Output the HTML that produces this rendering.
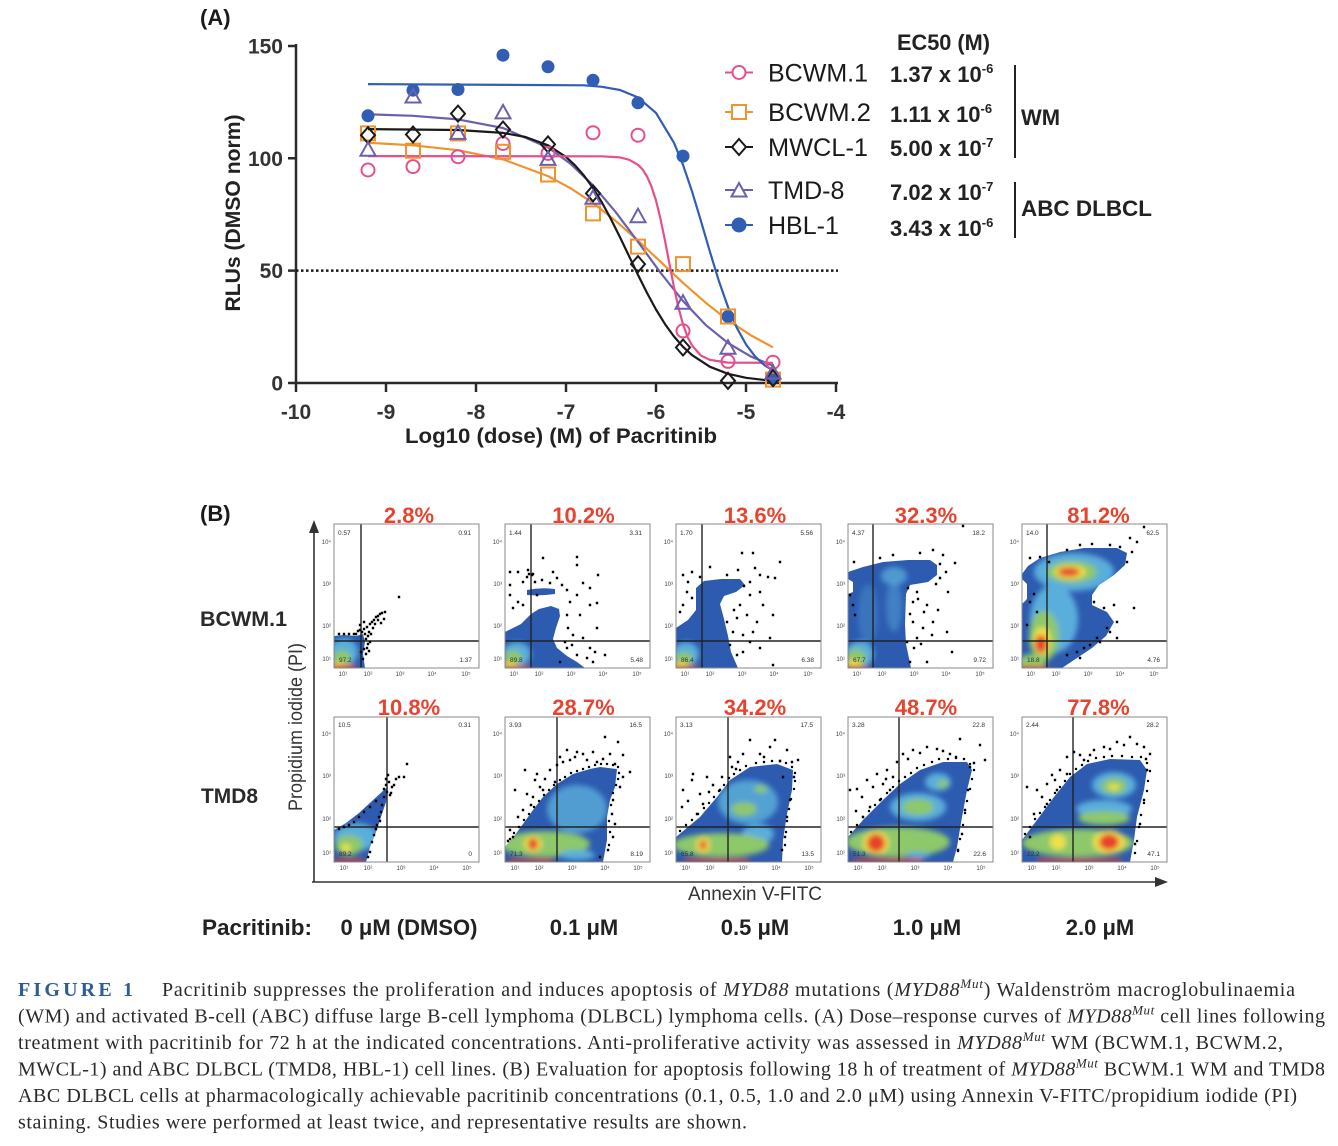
<!DOCTYPE html>
<html><head><meta charset="utf-8"><style>
html,body{margin:0;padding:0;background:#fff;}
svg{display:block;}
.s{font-family:"Liberation Sans",Arial,sans-serif;}
.b{font-family:"Liberation Sans",Arial,sans-serif;font-weight:bold;}
.q{font-family:"Liberation Sans",Arial,sans-serif;font-size:6.5px;fill:#333;}
.t{font-family:"Liberation Sans","DejaVu Sans",sans-serif;font-size:6px;fill:#444;}
.cap{font-family:"Liberation Serif","Times New Roman",serif;font-size:20px;fill:#2a2a2a;}
.pct{font-family:"Liberation Sans",Arial,sans-serif;font-weight:bold;font-size:22px;fill:#e8432e;}
</style></head><body>
<svg width="1338" height="1146" viewBox="0 0 1338 1146" xmlns="http://www.w3.org/2000/svg">
<defs>
<circle id="mc" r="6.5"/>
<rect id="ms" x="-7" y="-7" width="14" height="14"/>
<path id="md" d="M0,-8L7,0L0,8L-7,0Z"/>
<path id="mt" d="M0,-8L7.5,5.5L-7.5,5.5Z"/>
<filter id="bl" filterUnits="userSpaceOnUse" x="-30" y="-30" width="210" height="210"><feGaussianBlur stdDeviation="2.6"/></filter>
<clipPath id="pr1"><rect x="0" y="0" width="145" height="144"/></clipPath>
<clipPath id="pr2"><rect x="0" y="0" width="145" height="145"/></clipPath>
<path id="b11" d="M0,144L0,112L10,111L22,112L29,110L31,118L29,130L31,144Z"/>
<path id="b12" d="M0,144L0,108L8,104L16,100L26,90L34,85L46,82L54,85L55,92L51,104L48,115L52,124L62,132L72,138L80,144Z M22,66Q36,63 50,65L50,70Q36,72 22,71Z"/>
<path id="b13" d="M0,144L0,104L12,96L20,86L20,64L28,57L45,55L64,55L69,61L60,68L48,72L44,80L48,95L52,112L55,128L62,144Z"/>
<path id="b14" d="M0,144L0,70L5,68L5,58L0,55L0,48L15,43L35,38L60,36L82,36L89,41L89,51L80,58L62,61L58,70L57,100L58,120L63,144Z"/>
<path id="b15" d="M0,144L0,80L5,75L5,60L0,55L0,50L6,42L18,34L38,28L62,24L95,24L105,29L103,41L92,51L77,61L70,71L70,81L85,88L92,98L84,112L70,124L55,134L40,144Z"/>
<path id="b21" d="M0,145L0,113L12,106L25,96L38,84L50,73L54,70L52,85L47,100L42,115L36,130L32,145Z"/>
<path id="b22" d="M0,145L0,130L10,118L18,107L28,93L38,80L52,67L68,57L85,52L95,50L112,52L110,70L105,83L102,100L102,123L98,145Z"/>
<path id="b23" d="M0,145L0,120L12,110L24,100L41,80L54,63L74,50L101,47L117,53L116,73L111,97L107,123L106,145Z"/>
<path id="b24" d="M0,145L0,120L15,103L35,83L52,67L72,53L95,45L119,45L124,53L119,73L114,100L109,130L105,145Z"/>
<path id="b25" d="M0,145L0,123L15,103L32,80L48,60L65,47L88,42L118,43L125,53L122,73L115,100L112,123L108,145Z"/>
<clipPath id="k11"><use href="#b11"/></clipPath>
<clipPath id="k12"><use href="#b12"/></clipPath>
<clipPath id="k13"><use href="#b13"/></clipPath>
<clipPath id="k14"><use href="#b14"/></clipPath>
<clipPath id="k15"><use href="#b15"/></clipPath>
<clipPath id="k21"><use href="#b21"/></clipPath>
<clipPath id="k22"><use href="#b22"/></clipPath>
<clipPath id="k23"><use href="#b23"/></clipPath>
<clipPath id="k24"><use href="#b24"/></clipPath>
<clipPath id="k25"><use href="#b25"/></clipPath>
</defs>
<rect width="1338" height="1146" fill="#fff"/>

<!-- ================= PANEL A ================= -->
<text class="b" x="200" y="25" font-size="22" fill="#1a1a1a">(A)</text>
<g stroke="#2a2a2a" stroke-width="2.5" fill="none">
<path d="M296,44V383H838"/>
<path d="M288,46H296M288,158.3H296M288,270.6H296M288,383H296"/>
<path d="M296,383V392M386,383V392M476,383V392M566,383V392M656,383V392M746,383V392M836,383V392"/>
</g>
<line x1="296" y1="270.6" x2="838" y2="270.6" stroke="#1a1a1a" stroke-width="2.5" stroke-dasharray="2.5 2.5"/>
<g class="b" font-size="21" fill="#333" text-anchor="end">
<text x="283" y="53.5">150</text><text x="283" y="165.8">100</text><text x="283" y="278">50</text><text x="283" y="390.5">0</text>
</g>
<g class="b" font-size="21" fill="#333" text-anchor="middle">
<text x="296" y="419">-10</text><text x="386" y="419">-9</text><text x="476" y="419">-8</text><text x="566" y="419">-7</text><text x="656" y="419">-6</text><text x="746" y="419">-5</text><text x="836" y="419">-4</text>
</g>
<text class="b" x="561" y="443" font-size="21" fill="#222" text-anchor="middle" textLength="312" lengthAdjust="spacingAndGlyphs">Log10 (dose) (M) of Pacritinib</text>
<text class="b" transform="translate(240,213) rotate(-90)" font-size="21" fill="#222" text-anchor="middle" textLength="197" lengthAdjust="spacingAndGlyphs">RLUs (DMSO norm)</text>

<g fill="none" stroke-width="2.2" stroke-linejoin="round">
<polyline stroke="#f0932e" points="368,142.8 413,145.3 458,150.2 503,159.4 548,176.1 570.5,188.2 593,203.0 615.5,220.8 638,240.5 660.5,261.7 683,282.8 705.5,302.6 728,320.3 750.5,335.1 773,347.3"/>
<polyline stroke="#6c5fb0" points="368,114.3 413,115.8 458,119.4 503,128.0 548,147.5 570.5,163.7 593,185.3 615.5,211.8 638,241.9 660.5,272.7 683,301.0 705.5,324.8 728,343.0 750.5,356.3 773,365.7"/>
<polyline stroke="#1a1a1a" points="368,129.1 458,130.0 503,132.9 525.5,137.0 548,145.3 566,156.9 575,165.3 584,175.6 593,188.0 602,202.6 611,219.2 620,237.2 629,256.0 638,274.9 647,292.9 656,309.5 665,324.1 674,336.5 683,346.8 692,355.1 710,366.8 728,373.8 746,377.8 773,381.0"/>
<polyline stroke="#e5508c" points="368,156.1 602,156.3 620,157.4 629,159.7 638,164.8 642.5,169.3 647,176.5 651.5,186.6 656,200.5 660.5,219.0 665,240.5 669.5,264.1 674,287.3 678.5,307.7 683,324.4 687.5,336.7 692,345.5 701,355.6 710,359.9 728,362.6 773,362.8"/>
<polyline stroke="#2f5eb4" points="368,84.1 584,85.3 602,86.8 620,90.0 638,97.4 656,112.9 674,142.8 683,164.8 692,191.3 701,221.2 710,252.0 719,281.4 728,307.0 737,328.2 746,344.4 755,356.3 764,364.8 773,370.6"/>
</g>
<g fill="#2f5eb4">
<use href="#mc" x="368" y="115.8"/><use href="#mc" x="413" y="90.2"/><use href="#mc" x="458" y="89.5"/><use href="#mc" x="503" y="55.2"/><use href="#mc" x="548" y="66.8"/><use href="#mc" x="593" y="80.3"/><use href="#mc" x="638" y="102.8"/><use href="#mc" x="683" y="156.1"/><use href="#mc" x="728" y="316.5"/><use href="#mc" x="773" y="378.1"/>
</g>
<g fill="none" stroke="#e5508c" stroke-width="2">
<use href="#mc" x="368" y="170.0"/><use href="#mc" x="413" y="166.6"/><use href="#mc" x="458" y="156.7"/><use href="#mc" x="503" y="143.5"/><use href="#mc" x="548" y="153.4"/><use href="#mc" x="593" y="132.7"/><use href="#mc" x="638" y="135.2"/><use href="#mc" x="683" y="330.9"/><use href="#mc" x="728" y="361.4"/><use href="#mc" x="773" y="362.3"/>
</g>
<g fill="none" stroke="#f0932e" stroke-width="2">
<use href="#ms" x="368" y="133.4"/><use href="#ms" x="413" y="150.7"/><use href="#ms" x="458" y="133.4"/><use href="#ms" x="503" y="151.8"/><use href="#ms" x="548" y="174.5"/><use href="#ms" x="593" y="213.4"/><use href="#ms" x="638" y="246.6"/><use href="#ms" x="683" y="264.1"/><use href="#ms" x="728" y="316.5"/><use href="#ms" x="773" y="379.6"/>
</g>
<g fill="none" stroke="#1a1a1a" stroke-width="2">
<use href="#md" x="368" y="135.2"/><use href="#md" x="413" y="134.5"/><use href="#md" x="458" y="113.6"/><use href="#md" x="503" y="129.5"/><use href="#md" x="548" y="144.4"/><use href="#md" x="593" y="193.4"/><use href="#md" x="638" y="264.1"/><use href="#md" x="683" y="347.5"/><use href="#md" x="728" y="380.8"/><use href="#md" x="773" y="378.1"/>
</g>
<g fill="none" stroke="#6c5fb0" stroke-width="2">
<use href="#mt" x="368" y="150.2"/><use href="#mt" x="413" y="97.0"/><use href="#mt" x="458" y="133.4"/><use href="#mt" x="503" y="112.9"/><use href="#mt" x="548" y="159.4"/><use href="#mt" x="593" y="198.3"/><use href="#mt" x="638" y="216.7"/><use href="#mt" x="683" y="303.2"/><use href="#mt" x="728" y="348.2"/><use href="#mt" x="773" y="373.1"/>
</g>

<g stroke-width="2">
<line x1="725" y1="72.5" x2="753" y2="72.5" stroke="#e5508c"/><use href="#mc" x="739" y="72.5" fill="#fff" stroke="#e5508c"/>
<line x1="725" y1="112" x2="753" y2="112" stroke="#f0932e"/><use href="#ms" x="739" y="112" fill="#fff" stroke="#f0932e"/>
<line x1="725" y1="147" x2="753" y2="147" stroke="#1a1a1a"/><use href="#md" x="739" y="147" fill="#fff" stroke="#1a1a1a"/>
<line x1="725" y1="190" x2="753" y2="190" stroke="#6c5fb0"/><use href="#mt" x="739" y="191" fill="#fff" stroke="#6c5fb0"/>
<line x1="725" y1="225" x2="753" y2="225" stroke="#2f5eb4"/><use href="#mc" x="739" y="225" fill="#2f5eb4" stroke="#2f5eb4"/>
</g>
<g class="s" font-size="25" fill="#1a1a1a">
<text x="768" y="81.5" textLength="100" lengthAdjust="spacingAndGlyphs">BCWM.1</text>
<text x="768" y="121" textLength="103" lengthAdjust="spacingAndGlyphs">BCWM.2</text>
<text x="768" y="156" textLength="100" lengthAdjust="spacingAndGlyphs">MWCL-1</text>
<text x="768" y="199">TMD-8</text>
<text x="768" y="234">HBL-1</text>
</g>
<g class="b" font-size="22" fill="#222">
<text x="897" y="50" textLength="93" lengthAdjust="spacingAndGlyphs">EC50 (M)</text>
<text x="890" y="82">1.37 x 10<tspan font-size="13" dy="-9">-6</tspan></text>
<text x="890" y="122">1.11 x 10<tspan font-size="13" dy="-9">-6</tspan></text>
<text x="890" y="156">5.00 x 10<tspan font-size="13" dy="-9">-7</tspan></text>
<text x="890" y="200">7.02 x 10<tspan font-size="13" dy="-9">-7</tspan></text>
<text x="890" y="236">3.43 x 10<tspan font-size="13" dy="-9">-6</tspan></text>
<text x="1021" y="125">WM</text>
<text x="1021" y="216" textLength="131" lengthAdjust="spacingAndGlyphs">ABC DLBCL</text>
</g>
<path d="M1015,65V158M1015,182V238" stroke="#222" stroke-width="2"/>

<!-- ================= PANEL B ================= -->
<text class="b" x="200" y="521" font-size="22" fill="#1a1a1a">(B)</text>
<text class="b" x="200" y="626" font-size="21.5" fill="#2a2a2a" textLength="87" lengthAdjust="spacingAndGlyphs">BCWM.1</text>
<text class="b" x="201" y="803" font-size="21.5" fill="#2a2a2a" textLength="57" lengthAdjust="spacingAndGlyphs">TMD8</text>
<text class="s" transform="translate(302,727) rotate(-90)" font-size="19" fill="#333" text-anchor="middle" textLength="168" lengthAdjust="spacingAndGlyphs">Propidium iodide (PI)</text>
<text class="s" x="755" y="900" font-size="19" fill="#333" text-anchor="middle" textLength="134" lengthAdjust="spacingAndGlyphs">Annexin V-FITC</text>
<path d="M314,882V530M312,882H1158" stroke="#333" stroke-width="1.6" fill="none"/>
<path d="M314,520L309,533L319,533Z M1168,882L1155,877L1155,887Z" fill="#333"/>

<g class="pct" text-anchor="middle">
<text x="409" y="523">2.8%</text><text x="583.5" y="523">10.2%</text><text x="755" y="523">13.6%</text><text x="926" y="523">32.3%</text><text x="1098.5" y="523">81.2%</text>
<text x="409" y="715">10.8%</text><text x="583.5" y="715">28.7%</text><text x="755" y="715">34.2%</text><text x="926" y="715">48.7%</text><text x="1098.5" y="715">77.8%</text>
</g>

<g class="b" font-size="22" fill="#222">
<text x="202" y="935" textLength="110" lengthAdjust="spacingAndGlyphs">Pacritinib:</text>
<text x="409" y="935" text-anchor="middle">0 μM (DMSO)</text>
<text x="584" y="935" text-anchor="middle">0.1 μM</text>
<text x="755" y="935" text-anchor="middle">0.5 μM</text>
<text x="927" y="935" text-anchor="middle">1.0 μM</text>
<text x="1100" y="935" text-anchor="middle">2.0 μM</text>
</g>

<!-- ===== Row 1 plot 1 ===== -->
<g transform="translate(334,524)">
<g clip-path="url(#pr1)"><use href="#b11" fill="#2c5bb0"/>
<g clip-path="url(#k11)"><g filter="url(#bl)"><ellipse cx="10" cy="128" rx="14" ry="14" fill="#5aaedb"/><ellipse cx="8" cy="134" rx="9" ry="8" fill="#8dc86a"/><ellipse cx="4" cy="141" rx="7" ry="3" fill="#efe04a"/><rect x="0" y="141" width="22" height="5" fill="#e8402a"/></g></g></g>
<path d="M27,0V144M0,117H145" stroke="#222" stroke-width="1.4"/>
<path d="M30 105h0M33 103h0M36 100h0M38 98h0M40 96h0M42 93h0M44 92h0M46 90h0M48 89h0M51 88h0M35 108h0M37 110h0M34 112h0M31 110h0M28 108h0M26 106h0M32 115h0M34 120h0M30 125h0M32 130h0M29 135h0M27 128h0M36 118h0M39 104h0M41 100h0M24 107h0M22 110h0M65 73h0M44 96h0M50 95h0M47 99h0M30 98h0M26 101h0M20 110h0M15 110h0M10 110h0M5 110h0M33 124h0M35 127h0" stroke="#000" stroke-width="2.4" stroke-linecap="square"/>
<rect x="0" y="0" width="145" height="144" fill="none" stroke="#8a8a8a"/>
<text class="q" x="4" y="11">0.57</text><text class="q" x="137" y="11" text-anchor="end">0.91</text><text class="q" x="5" y="138">97.2</text><text class="q" x="138" y="138" text-anchor="end">1.37</text>
<g class="t" text-anchor="middle"><text x="9" y="152">10¹</text><text x="34" y="152">10²</text><text x="66" y="152">10³</text><text x="98" y="152">10⁴</text><text x="132" y="152">10⁵</text></g>
<g class="t" text-anchor="end"><text x="-3" y="20">10⁴</text><text x="-3" y="62">10³</text><text x="-3" y="104">10²</text><text x="-3" y="137">10¹</text></g>
</g>

<!-- ===== Row 1 plot 2 ===== -->
<g transform="translate(505,524)">
<g clip-path="url(#pr1)"><use href="#b12" fill="#2c5bb0"/>
<g clip-path="url(#k12)"><g filter="url(#bl)"><ellipse cx="12" cy="130" rx="14" ry="12" fill="#5aaedb"/><ellipse cx="8" cy="134" rx="9" ry="8" fill="#8dc86a"/><ellipse cx="4" cy="141" rx="7" ry="3" fill="#efe04a"/><rect x="0" y="142" width="25" height="4" fill="#e8402a"/></g></g></g>
<path d="M26,0V144M0,117H145" stroke="#222" stroke-width="1.4"/>
<path d="M5 48h0M13 48h0M23 46h0M27 51h0M38 34h0M30 58h0M37 56h0M45 59h0M52 54h0M57 61h0M62 66h0M72 33h0M72 41h0M78 59h0M93 51h0M85 64h0M72 71h0M65 78h0M62 91h0M75 91h0M85 81h0M92 79h0M5 71h0M13 78h0M18 81h0M8 84h0M32 71h0M18 58h0M5 61h0M63 104h0M68 111h0M78 114h0M85 124h0M90 128h0M82 134h0M72 131h0M62 124h0M92 104h0M100 131h0M60 118h0M67 121h0M88 138h0M55 138h0M22 53h0M24 50h0M28 50h0M48 48h0" stroke="#000" stroke-width="2.4" stroke-linecap="square"/>
<rect x="0" y="0" width="145" height="144" fill="none" stroke="#8a8a8a"/>
<text class="q" x="4" y="11">1.44</text><text class="q" x="137" y="11" text-anchor="end">3.31</text><text class="q" x="5" y="138">89.8</text><text class="q" x="138" y="138" text-anchor="end">5.48</text>
<g class="t" text-anchor="middle"><text x="9" y="152">10¹</text><text x="34" y="152">10²</text><text x="66" y="152">10³</text><text x="98" y="152">10⁴</text><text x="132" y="152">10⁵</text></g>
<g class="t" text-anchor="end"><text x="-3" y="20">10⁴</text><text x="-3" y="62">10³</text><text x="-3" y="104">10²</text><text x="-3" y="137">10¹</text></g>
</g>

<!-- ===== Row 1 plot 3 ===== -->
<g transform="translate(676,524)">
<g clip-path="url(#pr1)"><use href="#b13" fill="#2c5bb0"/>
<g clip-path="url(#k13)"><g filter="url(#bl)"><ellipse cx="10" cy="130" rx="13" ry="12" fill="#5aaedb"/><ellipse cx="8" cy="135" rx="9" ry="7" fill="#8dc86a"/><ellipse cx="4" cy="141" rx="7" ry="3" fill="#efe04a"/><rect x="0" y="142" width="22" height="4" fill="#e8402a"/></g></g></g>
<path d="M26,0V144M0,117H145" stroke="#222" stroke-width="1.4"/>
<path d="M7 51h0M16 48h0M24 53h0M11 68h0M7 81h0M16 74h0M4 88h0M34 43h0M51 51h0M66 29h0M77 29h0M62 46h0M74 58h0M84 51h0M92 53h0M99 54h0M104 38h0M74 71h0M84 68h0M87 81h0M64 81h0M61 94h0M71 91h0M81 98h0M97 91h0M57 108h0M67 111h0M74 118h0M84 124h0M94 114h0M67 128h0M97 141h0M54 121h0M61 131h0M77 108h0M51 98h0M58 86h0M68 62h0M79 44h0M12 58h0" stroke="#000" stroke-width="2.4" stroke-linecap="square"/>
<rect x="0" y="0" width="145" height="144" fill="none" stroke="#8a8a8a"/>
<text class="q" x="4" y="11">1.70</text><text class="q" x="137" y="11" text-anchor="end">5.56</text><text class="q" x="5" y="138">86.4</text><text class="q" x="138" y="138" text-anchor="end">6.38</text>
<g class="t" text-anchor="middle"><text x="9" y="152">10¹</text><text x="34" y="152">10²</text><text x="66" y="152">10³</text><text x="98" y="152">10⁴</text><text x="132" y="152">10⁵</text></g>
<g class="t" text-anchor="end"><text x="-3" y="20">10⁴</text><text x="-3" y="62">10³</text><text x="-3" y="104">10²</text><text x="-3" y="137">10¹</text></g>
</g>

<!-- ===== Row 1 plot 4 ===== -->
<g transform="translate(848,524)">
<g clip-path="url(#pr1)"><use href="#b14" fill="#2c5bb0"/>
<g clip-path="url(#k14)"><g filter="url(#bl)"><ellipse cx="46" cy="52" rx="13" ry="9" fill="#5aaedb" opacity="0.75"/><ellipse cx="46" cy="82" rx="8" ry="26" fill="#5aaedb" opacity="0.45"/><ellipse cx="20" cy="90" rx="10" ry="30" fill="#5aaedb" opacity="0.3"/><ellipse cx="12" cy="130" rx="14" ry="13" fill="#5aaedb"/><ellipse cx="8" cy="134" rx="10" ry="9" fill="#8dc86a"/><ellipse cx="5" cy="140" rx="7" ry="4" fill="#efe04a"/><rect x="0" y="142" width="20" height="4" fill="#e8402a"/></g></g></g>
<path d="M25,0V144M0,117H145" stroke="#222" stroke-width="1.4"/>
<path d="M6 38h0M32 34h0M45 31h0M72 29h0M85 26h0M95 31h0M107 39h0M115 2h0M92 54h0M100 68h0M69 68h0M65 78h0M79 81h0M85 98h0M65 98h0M75 104h0M84 111h0M69 114h0M59 118h0M99 108h0M104 128h0M62 138h0M79 138h0M2 71h0M5 81h0M7 91h0M60 64h0M70 75h0M76 88h0M90 86h0M66 124h0M73 120h0M92 40h0M88 60h0M98 48h0M62 90h0" stroke="#000" stroke-width="2.4" stroke-linecap="square"/>
<rect x="0" y="0" width="145" height="144" fill="none" stroke="#8a8a8a"/>
<text class="q" x="4" y="11">4.37</text><text class="q" x="137" y="11" text-anchor="end">18.2</text><text class="q" x="5" y="138">67.7</text><text class="q" x="138" y="138" text-anchor="end">9.72</text>
<g class="t" text-anchor="middle"><text x="9" y="152">10¹</text><text x="34" y="152">10²</text><text x="66" y="152">10³</text><text x="98" y="152">10⁴</text><text x="132" y="152">10⁵</text></g>
<g class="t" text-anchor="end"><text x="-3" y="20">10⁴</text><text x="-3" y="62">10³</text><text x="-3" y="104">10²</text><text x="-3" y="137">10¹</text></g>
</g>

<!-- ===== Row 1 plot 5 ===== -->
<g transform="translate(1022,524)">
<g clip-path="url(#pr1)"><use href="#b15" fill="#2c5bb0"/>
<g clip-path="url(#k15)"><g filter="url(#bl)"><ellipse cx="52" cy="48" rx="40" ry="19" fill="#5aaedb"/><ellipse cx="32" cy="95" rx="24" ry="34" fill="#5aaedb"/><ellipse cx="50" cy="48" rx="25" ry="11" fill="#8dc86a"/><ellipse cx="22" cy="112" rx="15" ry="25" fill="#8dc86a"/><ellipse cx="48" cy="48" rx="16" ry="7" fill="#efe04a"/><ellipse cx="20" cy="117" rx="9" ry="14" fill="#efe04a"/><ellipse cx="47" cy="48" rx="11" ry="4.5" fill="#e8402a"/><ellipse cx="19" cy="120" rx="6" ry="9" fill="#e8402a"/><ellipse cx="10" cy="138" rx="14" ry="8" fill="#8dc86a"/><rect x="0" y="142" width="25" height="4" fill="#e8402a"/></g></g></g>
<path d="M25,0V144M0,117H145" stroke="#222" stroke-width="1.4"/>
<path d="M8 34h0M18 33h0M27 38h0M58 21h0M88 21h0M98 23h0M108 14h0M122 3h0M8 78h0M15 88h0M5 101h0M72 78h0M82 84h0M92 81h0M112 84h0M95 98h0M85 104h0M75 114h0M62 124h0M55 128h0M45 131h0M68 121h0M78 118h0M105 38h0M95 114h0M12 70h0M110 28h0M115 18h0M70 20h0M45 26h0M88 108h0M58 134h0" stroke="#000" stroke-width="2.4" stroke-linecap="square"/>
<rect x="0" y="0" width="145" height="144" fill="none" stroke="#8a8a8a"/>
<text class="q" x="4" y="11">14.0</text><text class="q" x="137" y="11" text-anchor="end">62.5</text><text class="q" x="5" y="138">18.8</text><text class="q" x="138" y="138" text-anchor="end">4.76</text>
<g class="t" text-anchor="middle"><text x="9" y="152">10¹</text><text x="34" y="152">10²</text><text x="66" y="152">10³</text><text x="98" y="152">10⁴</text><text x="132" y="152">10⁵</text></g>
<g class="t" text-anchor="end"><text x="-3" y="20">10⁴</text><text x="-3" y="62">10³</text><text x="-3" y="104">10²</text><text x="-3" y="137">10¹</text></g>
</g>

<!-- ===== Row 2 plot 1 ===== -->
<g transform="translate(334,717)">
<g clip-path="url(#pr2)"><use href="#b21" fill="#2c5bb0"/>
<g clip-path="url(#k21)"><g filter="url(#bl)"><ellipse cx="22" cy="120" rx="22" ry="14" fill="#5aaedb"/><ellipse cx="15" cy="128" rx="14" ry="10" fill="#8dc86a"/><ellipse cx="12" cy="131" rx="5" ry="4" fill="#efe04a"/><rect x="0" y="142" width="30" height="4" fill="#e8402a"/></g></g></g>
<path d="M53,0V145M0,110H145" stroke="#222" stroke-width="1.4"/>
<path d="M50 72h0M52 68h0M55 65h0M53 75h0M56 78h0M58 70h0M60 68h0M62 62h0M65 60h0M70 60h0M73 47h0M50 80h0M48 88h0M45 100h0M43 108h0M40 118h0M38 125h0M36 135h0M42 112h0M47 95h0M10 110h0M15 108h0M20 105h0M5 112h0M25 100h0M52 62h0M54 58h0M57 76h0M34 140h0M46 104h0M30 95h0M36 90h0M42 84h0" stroke="#000" stroke-width="2.4" stroke-linecap="square"/>
<rect x="0" y="0" width="145" height="145" fill="none" stroke="#8a8a8a"/>
<text class="q" x="4" y="10">10.5</text><text class="q" x="137" y="10" text-anchor="end">0.31</text><text class="q" x="5" y="139">89.2</text><text class="q" x="138" y="139" text-anchor="end">0</text>
<g class="t" text-anchor="middle"><text x="10" y="153">10¹</text><text x="34" y="153">10²</text><text x="67" y="153">10³</text><text x="100" y="153">10⁴</text><text x="133" y="153">10⁵</text></g>
<g class="t" text-anchor="end"><text x="-3" y="19">10⁴</text><text x="-3" y="61">10³</text><text x="-3" y="104">10²</text><text x="-3" y="138">10¹</text></g>
</g>

<!-- ===== Row 2 plot 2 ===== -->
<g transform="translate(505,717)">
<g clip-path="url(#pr2)"><use href="#b22" fill="#2c5bb0"/>
<g clip-path="url(#k22)"><g filter="url(#bl)"><ellipse cx="72" cy="92" rx="30" ry="24" fill="#5aaedb" opacity="0.8"/><ellipse cx="40" cy="127" rx="45" ry="13" fill="#8dc86a"/><ellipse cx="28" cy="127" rx="9" ry="8" fill="#efe04a"/><ellipse cx="28" cy="127" rx="5" ry="6" fill="#e8402a"/><rect x="3" y="142" width="45" height="4" fill="#e8402a"/><ellipse cx="72" cy="138" rx="18" ry="5" fill="#5aaedb"/></g></g></g>
<path d="M52,0V145M0,110H145" stroke="#222" stroke-width="1.4"/>
<path d="M10 73h0M20 53h0M32 57h0M30 63h0M35 70h0M22 77h0M18 93h0M13 100h0M28 80h0M38 73h0M45 53h0M55 40h0M62 33h0M72 35h0M82 43h0M92 45h0M100 20h0M113 25h0M105 37h0M118 38h0M125 55h0M118 60h0M108 83h0M107 97h0M110 107h0M108 120h0M103 133h0M52 48h0M50 65h0M65 43h0M78 37h0M88 35h0M5 113h0M8 120h0M95 140h0M26 88h0M40 62h0M58 45h0M70 40h0M98 42h0M110 47h0M115 70h0M3 124h0" stroke="#000" stroke-width="2.4" stroke-linecap="square"/>
<path d="M5 122h0M9 116h0M14 110h0M19 103h0M24 97h0M29 90h0M34 84h0M39 78h0M44 73h0M49 68h0M55 63h0M60 60h0M66 56h0M72 54h0M78 52h0M84 50h0M90 48h0M96 47h0M102 47h0M108 48h0M113 50h0M114 56h0M113 62h0M111 68h0M108 76h0M106 88h0M104 104h0M105 115h0M104 128h0" stroke="#000" stroke-width="2.2" stroke-linecap="square"/>
<rect x="0" y="0" width="145" height="145" fill="none" stroke="#8a8a8a"/>
<text class="q" x="4" y="10">3.93</text><text class="q" x="137" y="10" text-anchor="end">16.5</text><text class="q" x="5" y="139">71.3</text><text class="q" x="138" y="139" text-anchor="end">8.19</text>
<g class="t" text-anchor="middle"><text x="10" y="153">10¹</text><text x="34" y="153">10²</text><text x="67" y="153">10³</text><text x="100" y="153">10⁴</text><text x="133" y="153">10⁵</text></g>
<g class="t" text-anchor="end"><text x="-3" y="19">10⁴</text><text x="-3" y="61">10³</text><text x="-3" y="104">10²</text><text x="-3" y="138">10¹</text></g>
</g>

<!-- ===== Row 2 plot 3 ===== -->
<g transform="translate(676,717)">
<g clip-path="url(#pr2)"><use href="#b23" fill="#2c5bb0"/>
<g clip-path="url(#k23)"><g filter="url(#bl)"><ellipse cx="72" cy="85" rx="30" ry="22" fill="#5aaedb" opacity="0.85"/><ellipse cx="85" cy="72" rx="7" ry="4" fill="#8dc86a"/><ellipse cx="68" cy="92" rx="13" ry="7" fill="#8dc86a"/><ellipse cx="82" cy="117" rx="16" ry="10" fill="#5aaedb"/><ellipse cx="45" cy="128" rx="48" ry="12" fill="#8dc86a"/><ellipse cx="27" cy="128" rx="7" ry="8" fill="#efe04a"/><ellipse cx="27" cy="128" rx="3.5" ry="5" fill="#e8402a"/><rect x="8" y="142" width="65" height="4" fill="#e8402a"/></g></g></g>
<path d="M52,0V145M0,110H145" stroke="#222" stroke-width="1.4"/>
<path d="M7 73h0M16 63h0M17 57h0M31 60h0M37 68h0M24 77h0M27 87h0M21 97h0M44 73h0M54 40h0M56 50h0M67 37h0M74 23h0M84 37h0M94 30h0M99 23h0M111 33h0M116 45h0M107 60h0M122 43h0M114 83h0M111 100h0M109 120h0M106 133h0M62 45h0M6 90h0M46 60h0M60 52h0M88 40h0M104 44h0M118 60h0M12 84h0M33 75h0" stroke="#000" stroke-width="2.4" stroke-linecap="square"/>
<path d="M4 114h0M10 108h0M16 103h0M22 97h0M28 91h0M33 86h0M38 80h0M43 74h0M48 68h0M53 61h0M58 57h0M64 53h0M70 49h0M80 46h0M88 45h0M96 44h0M104 44h0M110 46h0M116 50h0M119 56h0M119 64h0M118 72h0M115 82h0M113 92h0M111 104h0M110 115h0M109 128h0" stroke="#000" stroke-width="2.2" stroke-linecap="square"/>
<rect x="0" y="0" width="145" height="145" fill="none" stroke="#8a8a8a"/>
<text class="q" x="4" y="10">3.13</text><text class="q" x="137" y="10" text-anchor="end">17.5</text><text class="q" x="5" y="139">65.8</text><text class="q" x="138" y="139" text-anchor="end">13.5</text>
<g class="t" text-anchor="middle"><text x="10" y="153">10¹</text><text x="34" y="153">10²</text><text x="67" y="153">10³</text><text x="100" y="153">10⁴</text><text x="133" y="153">10⁵</text></g>
<g class="t" text-anchor="end"><text x="-3" y="19">10⁴</text><text x="-3" y="61">10³</text><text x="-3" y="104">10²</text><text x="-3" y="138">10¹</text></g>
</g>

<!-- ===== Row 2 plot 4 ===== -->
<g transform="translate(848,717)">
<g clip-path="url(#pr2)"><use href="#b24" fill="#2c5bb0"/>
<g clip-path="url(#k24)"><g filter="url(#bl)"><ellipse cx="90" cy="65" rx="13" ry="9" fill="#5aaedb"/><ellipse cx="95" cy="67" rx="6" ry="4" fill="#8dc86a"/><ellipse cx="70" cy="90" rx="28" ry="14" fill="#5aaedb"/><ellipse cx="70" cy="90" rx="16" ry="8" fill="#8dc86a"/><ellipse cx="50" cy="125" rx="52" ry="15" fill="#8dc86a"/><ellipse cx="28" cy="126" rx="13" ry="12" fill="#efe04a"/><ellipse cx="28" cy="126" rx="9" ry="9" fill="#e8402a"/><ellipse cx="70" cy="138" rx="12" ry="3" fill="#5aaedb"/><rect x="5" y="142" width="70" height="4" fill="#e8402a"/></g></g></g>
<path d="M51,0V145M0,110H145" stroke="#222" stroke-width="1.4"/>
<path d="M2 73h0M9 72h0M19 63h0M29 57h0M39 53h0M35 67h0M42 73h0M32 83h0M22 90h0M15 100h0M45 60h0M55 37h0M65 33h0M79 30h0M89 32h0M102 37h0M112 22h0M132 28h0M137 43h0M122 50h0M120 73h0M117 93h0M114 117h0M110 133h0M49 45h0M25 70h0M14 80h0M60 42h0M72 36h0M95 34h0M108 40h0M126 46h0M8 94h0M38 62h0" stroke="#000" stroke-width="2.4" stroke-linecap="square"/>
<path d="M3 115h0M9 108h0M15 100h0M21 94h0M27 88h0M33 82h0M39 76h0M45 70h0M51 64h0M57 60h0M63 56h0M69 51h0M76 48h0M84 45h0M91 42h0M100 42h0M108 41h0M116 42h0M122 47h0M126 53h0M124 62h0M122 72h0M119 84h0M117 96h0M115 108h0M112 122h0M110 134h0" stroke="#000" stroke-width="2.2" stroke-linecap="square"/>
<rect x="0" y="0" width="145" height="145" fill="none" stroke="#8a8a8a"/>
<text class="q" x="4" y="10">3.28</text><text class="q" x="137" y="10" text-anchor="end">22.8</text><text class="q" x="5" y="139">51.3</text><text class="q" x="138" y="139" text-anchor="end">22.6</text>
<g class="t" text-anchor="middle"><text x="10" y="153">10¹</text><text x="34" y="153">10²</text><text x="67" y="153">10³</text><text x="100" y="153">10⁴</text><text x="133" y="153">10⁵</text></g>
<g class="t" text-anchor="end"><text x="-3" y="19">10⁴</text><text x="-3" y="61">10³</text><text x="-3" y="104">10²</text><text x="-3" y="138">10¹</text></g>
</g>

<!-- ===== Row 2 plot 5 ===== -->
<g transform="translate(1022,717)">
<g clip-path="url(#pr2)"><use href="#b25" fill="#2c5bb0"/>
<g clip-path="url(#k25)"><g filter="url(#bl)"><ellipse cx="92" cy="68" rx="22" ry="13" fill="#5aaedb"/><ellipse cx="92" cy="69" rx="13" ry="8" fill="#8dc86a"/><ellipse cx="92" cy="70" rx="6" ry="3" fill="#efe04a"/><ellipse cx="82" cy="92" rx="28" ry="9" fill="#5aaedb"/><ellipse cx="82" cy="101" rx="26" ry="7" fill="#8dc86a"/><ellipse cx="56" cy="126" rx="56" ry="14" fill="#8dc86a"/><ellipse cx="87" cy="125" rx="16" ry="12" fill="#efe04a"/><ellipse cx="87" cy="125" rx="10" ry="8" fill="#e8402a"/><ellipse cx="36" cy="125" rx="8" ry="8" fill="#efe04a"/><rect x="15" y="142" width="85" height="4" fill="#e8402a"/></g></g></g>
<path d="M51,0V145M0,110H145" stroke="#222" stroke-width="1.4"/>
<path d="M5 70h0M15 73h0M25 67h0M33 63h0M38 53h0M45 57h0M52 35h0M25 87h0M12 97h0M8 120h0M62 43h0M72 33h0M82 30h0M95 25h0M108 20h0M122 30h0M128 37h0M125 53h0M122 83h0M118 107h0M113 127h0M35 73h0M45 40h0M30 58h0M20 80h0M58 38h0M68 38h0M88 32h0M102 28h0M115 27h0M124 42h0" stroke="#000" stroke-width="2.4" stroke-linecap="square"/>
<path d="M3 117h0M8 110h0M13 102h0M18 96h0M23 90h0M28 83h0M33 76h0M38 70h0M43 64h0M48 57h0M54 52h0M60 48h0M66 44h0M74 41h0M82 40h0M90 39h0M100 39h0M110 40h0M119 40h0M125 46h0M128 54h0M126 64h0M125 74h0M122 86h0M119 98h0M117 110h0M115 124h0M113 136h0" stroke="#000" stroke-width="2.2" stroke-linecap="square"/>
<rect x="0" y="0" width="145" height="145" fill="none" stroke="#8a8a8a"/>
<text class="q" x="4" y="10">2.44</text><text class="q" x="137" y="10" text-anchor="end">28.2</text><text class="q" x="5" y="139">22.2</text><text class="q" x="138" y="139" text-anchor="end">47.1</text>
<g class="t" text-anchor="middle"><text x="10" y="153">10¹</text><text x="34" y="153">10²</text><text x="67" y="153">10³</text><text x="100" y="153">10⁴</text><text x="133" y="153">10⁵</text></g>
<g class="t" text-anchor="end"><text x="-3" y="19">10⁴</text><text x="-3" y="61">10³</text><text x="-3" y="104">10²</text><text x="-3" y="138">10¹</text></g>
</g>

<!-- ================= CAPTION ================= -->
<text x="18" y="996" font-family="'Liberation Serif',serif" font-weight="bold" font-size="20" fill="#2f5c96" textLength="115" lengthAdjust="spacing">FIGURE 1</text>
<text class="cap" x="162" y="996" textLength="1133" lengthAdjust="spacing">Pacritinib suppresses the proliferation and induces apoptosis of <tspan font-style="italic">MYD88</tspan> mutations (<tspan font-style="italic">MYD88</tspan><tspan font-style="italic" font-size="13" dy="-8">Mut</tspan><tspan dy="8">) Waldenström macroglobulinaemia</tspan></text>
<text class="cap" x="18" y="1022.5" textLength="1307" lengthAdjust="spacing">(WM) and activated B-cell (ABC) diffuse large B-cell lymphoma (DLBCL) lymphoma cells. (A) Dose–response curves of <tspan font-style="italic">MYD88</tspan><tspan font-style="italic" font-size="13" dy="-8">Mut</tspan><tspan dy="8"> cell lines following</tspan></text>
<text class="cap" x="18" y="1049" textLength="1265" lengthAdjust="spacing">treatment with pacritinib for 72 h at the indicated concentrations. Anti-proliferative activity was assessed in <tspan font-style="italic">MYD88</tspan><tspan font-style="italic" font-size="13" dy="-8">Mut</tspan><tspan dy="8"> WM (BCWM.1, BCWM.2,</tspan></text>
<text class="cap" x="18" y="1075.5" textLength="1307" lengthAdjust="spacing">MWCL-1) and ABC DLBCL (TMD8, HBL-1) cell lines. (B) Evaluation for apoptosis following 18 h of treatment of <tspan font-style="italic">MYD88</tspan><tspan font-style="italic" font-size="13" dy="-8">Mut</tspan><tspan dy="8"> BCWM.1 WM and TMD8</tspan></text>
<text class="cap" x="18" y="1102" textLength="1279" lengthAdjust="spacing">ABC DLBCL cells at pharmacologically achievable pacritinib concentrations (0.1, 0.5, 1.0 and 2.0 μM) using Annexin V-FITC/propidium iodide (PI)</text>
<text class="cap" x="18" y="1128.5" textLength="729" lengthAdjust="spacing">staining. Studies were performed at least twice, and representative results are shown.</text>
</svg>
</body></html>
